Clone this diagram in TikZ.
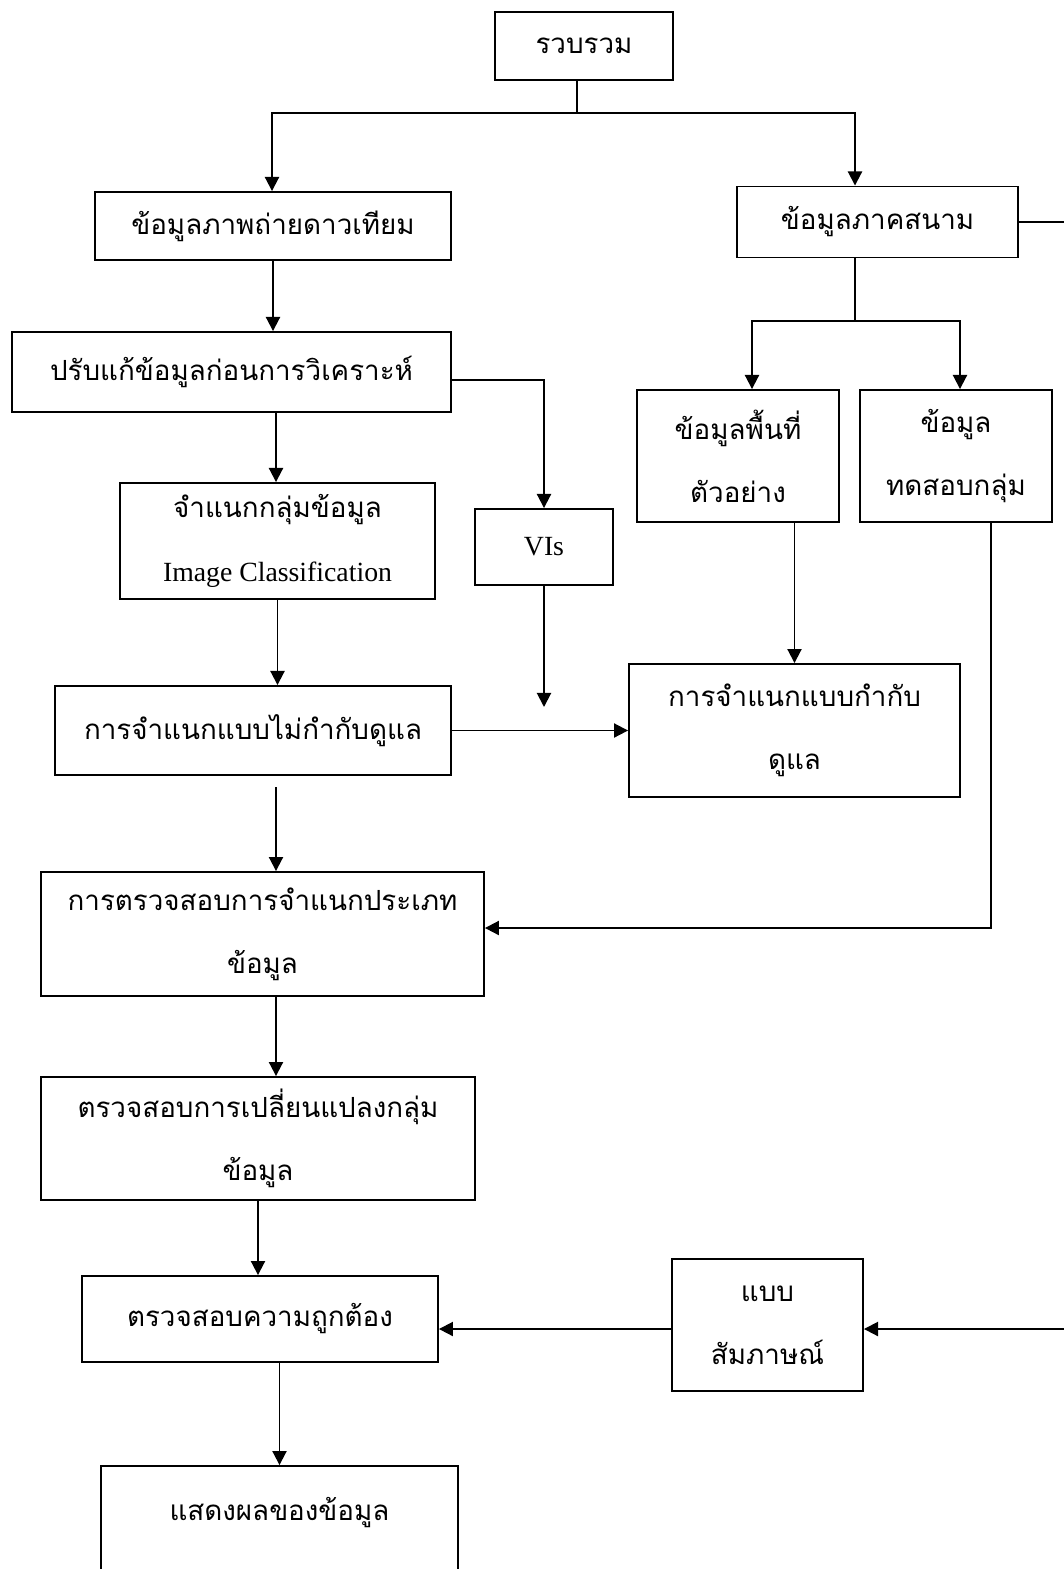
\documentclass[tikz,border=0pt]{standalone}
\usepackage{fontspec}
\setmainfont{Liberation Serif}
\newfontfamily\thaifont[Script=Thai]{Loma}
\usetikzlibrary{arrows.meta}
\tikzset{
	box/.style={draw, line width=1.1pt, align=center, font=\thaifont\fontsize{15.8}{36}\selectfont},
	arr/.style={line width=1.1pt, -{Triangle[length=8pt, width=8pt]}},
	ln/.style={line width=1.1pt}
}
\begin{document}
\begin{tikzpicture}[x=0.02cm, y=-0.02cm]
		\useasboundingbox (0,0) rectangle (1064,1569);
		\node[box, minimum width=3.56cm, minimum height=1.36cm] (collect) at (584,46) {รวบรวม};
		\node[box, minimum width=7.12cm, minimum height=1.36cm] (sat) at (273,226) {ข้อมูลภาพถ่ายดาวเทียม};
		\node[box, minimum width=5.62cm, minimum height=1.42cm] (field) at (877.5,222) {ข้อมูลภาคสนาม};
		\node[box, minimum width=8.78cm, minimum height=1.6cm] (prep) at (231.5,372) {ปรับแก้ข้อมูลก่อนการวิเคราะห์};
		\node[box, minimum width=6.3cm, minimum height=2.32cm] (cls) at (277.5,541) {จำแนกกลุ่มข้อมูล\\{\rmfamily Image Classification}};
		\node[box, minimum width=2.76cm, minimum height=1.52cm] (vis) at (544,547) {\rmfamily VIs};
		\node[box, minimum width=4.04cm, minimum height=2.64cm] (sample) at (738,456) {ข้อมูลพื้นที่\\ตัวอย่าง};
		\node[box, minimum width=3.84cm, minimum height=2.64cm] (test) at (956,456) {ข้อมูล\\ทดสอบกลุ่ม};
		\node[box, minimum width=7.92cm, minimum height=1.78cm] (unsup) at (253,730.5) {การจำแนกแบบไม่กำกับดูแล};
		\node[box, minimum width=6.62cm, minimum height=2.66cm] (sup) at (794.5,730.5) {การจำแนกแบบกำกับ\\ดูแล};
		\node[box, minimum width=8.86cm, minimum height=2.48cm] (check) at (262.5,934) {การตรวจสอบการจำแนกประเภท\\ข้อมูล};
		\node[box, minimum width=8.68cm, minimum height=2.46cm] (change) at (258,1138.5) {ตรวจสอบการเปลี่ยนแปลงกลุ่ม\\ข้อมูล};
		\node[box, minimum width=7.12cm, minimum height=1.72cm] (acc) at (260,1319) {ตรวจสอบความถูกต้อง};
		\node[box, minimum width=3.82cm, minimum height=2.64cm] (interview) at (767.5,1325) {แบบ\\สัมภาษณ์};
		\node[box, minimum width=7.14cm, minimum height=3cm] (result) at (279.5,1541) {แสดงผลของข้อมูล\\\mbox{}};
		\coordinate (split1) at (577,113);
		\coordinate (split2) at (855,321);
		\coordinate (viend) at (544,707);
		\coordinate (gap) at (276,787);
		\coordinate (edge) at (1080,224);
		\draw[ln] (collect.south -| split1) -- (split1);
		\draw[arr] (split1) -| ([xshift=-0.02cm]sat.north);
		\draw[arr] (split1) -| ([xshift=-0.45cm]field.north);
		\draw[arr] (sat.south) -- (sat.south |- prep.north);
		\draw[arr] ([yshift=-0.16cm]prep.east) -| (vis.north);
		\draw[arr] ([xshift=-0.03cm]cls.north |- prep.south) -- ([xshift=-0.03cm]cls.north);
		\draw[arr] (cls.south) -- (cls.south |- unsup.north);
		\draw[arr] (vis.south) -- (viend);
		\draw[ln] (field.south -| split2) -- (split2);
		\draw[arr] (split2) -| ([xshift=0.28cm]sample.north);
		\draw[arr] (split2) -| ([xshift=0.08cm]test.north);
		\draw[arr] (sup.north |- sample.south) -- (sup.north);
		\draw[arr] (unsup.east) -- (sup.west);
		\draw[arr] (gap) -- (gap |- check.north);
		\draw[arr] ([xshift=0.7cm]test.south) |- ([yshift=0.12cm]check.east);
		\draw[arr] ([xshift=0.27cm]check.south) -- ([xshift=0.27cm]check.south |- change.north);
		\draw[arr] (change.south) -- (change.south |- acc.north);
		\draw[arr] ([yshift=-0.08cm]interview.west) -- ([yshift=-0.08cm]interview.west -| acc.east);
		\draw[arr] (field.east) -- (field.east -| edge) |- ([yshift=-0.08cm]interview.east);
		\draw[arr] (result.north |- acc.south) -- (result.north);
	\end{tikzpicture}
\end{document}
